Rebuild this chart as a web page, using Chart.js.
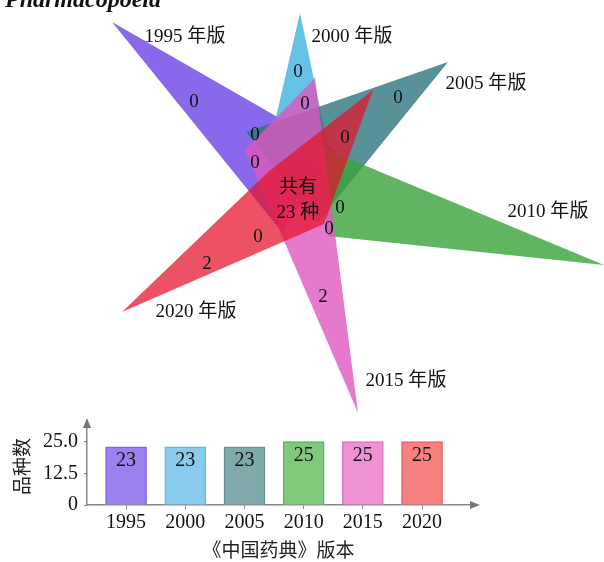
<!DOCTYPE html>
<html lang="zh">
<head>
<meta charset="utf-8">
<title>《中国药典》各版本品种数</title>
<script src="https://cdn.jsdelivr.net/npm/chart.js@4.4.1/dist/chart.umd.min.js"></script>
<style>
  html, body { margin: 0; padding: 0; background: #fff; overflow: hidden; }
  #wrap { position: relative; width: 604px; height: 562px; }
  #flower { position: absolute; left: 0; top: 0; }
  #bars { position: absolute; left: 0; top: 410px; }
</style>
</head>
<body>
<div id="wrap">
  <canvas id="flower" width="604" height="420"></canvas>
  <canvas id="bars" width="604" height="152"></canvas>
</div>
<script>
// editions and their variety counts
const editions = ['1995', '2000', '2005', '2010', '2015', '2020'];
const varietyCounts = [23, 23, 23, 25, 25, 25];
const uniqueCounts = [0, 0, 0, 0, 2, 2];   // only in that edition
const overlapCounts = [0, 0, 0, 0, 0, 0];  // partial overlaps near the core
const sharedCount = 23;                    // common to all editions
const countTicks = [0, 12.5, 25];

const SERIF = '"Liberation Serif", "Noto Sans CJK SC", serif';

// petal layout, in flower units (origin at the core, y up)
const petals = [
  { fill: 'rgba(108, 66, 230, 0.8)', outline: [[-186, 168], [37, 40], [-16, -42]], name: [-113, 153], only: [-104, 88] },
  { fill: 'rgba(62, 178, 224, 0.8)', outline: [[2, 177], [-30, 38], [34, 25]], name: [54, 153], only: [0, 118] },
  { fill: 'rgba(48, 118, 126, 0.8)', outline: [[150, 128], [-52, 58], [20, -32]], name: [188, 106], only: [100, 92] },
  { fill: 'rgba(58, 162, 58, 0.8)', outline: [[306, -75], [20, 44], [30, -46]], name: [250, -22], only: [42, -18] },
  { fill: 'rgba(222, 88, 190, 0.8)', outline: [[60, -223], [-53, 40], [17, 112]], name: [108, -191], only: [25, -107] },
  { fill: 'rgba(230, 22, 44, 0.74)', outline: [[-176, -122], [-30, 18], [75, 100], [26, -34]], name: [-102, -122], only: [-91, -74] }
];
const overlapSpots = [[7, 86], [47, 52], [31, -39], [-40, -47], [-43, 27], [-43, 55]];

const barFill = ['#9c80f0', '#88cbec', '#7fa9aa', '#80c97c', '#ee92d3', '#f78080'];
const barEdge = ['#8062e6', '#62b8e0', '#5f9092', '#5db55e', '#e072c6', '#e86262'];

const flowerText = {
  id: 'flowerText',
  afterDatasetsDraw(chart) {
    const { ctx, scales: { x, y } } = chart;
    const put = (txt, p) => ctx.fillText(txt, x.getPixelForValue(p[0]), y.getPixelForValue(p[1]));
    ctx.save();
    ctx.fillStyle = '#111';
    ctx.font = '19px ' + SERIF;
    ctx.textAlign = 'center';
    ctx.textBaseline = 'middle';
    petals.forEach((p, i) => {
      put(editions[i] + ' 年版', p.name);
      put(String(uniqueCounts[i]), p.only);
    });
    overlapSpots.forEach((p, i) => put(String(overlapCounts[i]), p));
    put('共有', [0, 2]);
    put(sharedCount + ' 种', [0, -23]);
    // caption running off the top edge
    ctx.font = 'italic bold 24px ' + SERIF;
    ctx.textAlign = 'left';
    ctx.textBaseline = 'alphabetic';
    ctx.fillText('Pharmacopoeia', 5, 7);
    ctx.restore();
  }
};

new Chart(document.getElementById('flower'), {
  type: 'scatter',
  data: {
    datasets: petals.map((p, i) => ({
      data: [...p.outline, p.outline[0]].map(([x, y]) => ({ x, y })),
      showLine: true,
      fill: 'shape',
      backgroundColor: p.fill,
      borderColor: 'transparent',
      borderWidth: 0,
      pointRadius: 0,
      order: petals.length - i
    }))
  },
  options: {
    responsive: false,
    animation: false,
    layout: { padding: 0 },
    plugins: { legend: { display: false }, tooltip: { enabled: false } },
    scales: {
      x: { type: 'linear', min: -298, max: 306, display: false },
      y: { type: 'linear', min: -230, max: 190, display: false }
    }
  },
  plugins: [flowerText]
});

const barValues = {
  id: 'barValues',
  afterDatasetsDraw(chart) {
    const { ctx } = chart;
    ctx.save();
    ctx.fillStyle = '#111';
    ctx.font = '20px ' + SERIF;
    ctx.textAlign = 'center';
    ctx.textBaseline = 'middle';
    chart.getDatasetMeta(0).data.forEach((bar, i) => {
      ctx.fillText(String(varietyCounts[i]), bar.x, bar.y + 14);
    });
    ctx.restore();
  }
};

const axisArrows = {
  id: 'axisArrows',
  afterDraw(chart) {
    const { ctx, chartArea: { left, top, right, bottom } } = chart;
    ctx.save();
    ctx.fillStyle = '#777';
    ctx.beginPath();
    ctx.moveTo(left, top - 10);
    ctx.lineTo(left - 4, top);
    ctx.lineTo(left + 4, top);
    ctx.fill();
    ctx.beginPath();
    ctx.moveTo(right + 10, bottom);
    ctx.lineTo(right, bottom - 4);
    ctx.lineTo(right, bottom + 4);
    ctx.fill();
    ctx.restore();
  }
};

new Chart(document.getElementById('bars'), {
  type: 'bar',
  data: {
    datasets: [{
      data: varietyCounts.map((v, i) => ({ x: i, y: v })),
      backgroundColor: barFill,
      borderColor: barEdge,
      borderWidth: 1.5,
      borderSkipped: 'bottom',
      barThickness: 41
    }]
  },
  options: {
    responsive: false,
    animation: false,
    layout: { padding: { top: 18, right: 134, bottom: 0, left: 0 } },
    plugins: { legend: { display: false }, tooltip: { enabled: false } },
    scales: {
      x: {
        type: 'linear',
        min: -0.66,
        max: 5.81,
        offset: false,
        afterBuildTicks: s => { s.ticks = editions.map((_, i) => ({ value: i })); },
        ticks: {
          callback: v => editions[v],
          color: '#111',
          padding: 2,
          maxRotation: 0,
          autoSkip: false,
          font: { family: SERIF, size: 20 }
        },
        grid: { display: true, offset: false, drawOnChartArea: false, tickLength: 4, color: '#888' },
        border: { color: '#888', width: 1.5 },
        title: {
          display: true,
          text: '《中国药典》版本',
          color: '#222',
          padding: { top: 6, bottom: 0 },
          font: { family: SERIF, size: 19, lineHeight: 1 }
        }
      },
      y: {
        min: 0,
        max: 30.4,
        afterBuildTicks: s => { s.ticks = countTicks.map(v => ({ value: v })); },
        afterFit: s => { s.width = 87; },
        ticks: {
          callback: v => (v === 0 ? '0' : v.toFixed(1)),
          color: '#111',
          padding: 6,
          font: { family: SERIF, size: 20 }
        },
        grid: { drawOnChartArea: false, tickLength: 3, color: '#888' },
        border: { color: '#888', width: 1.5 },
        title: {
          display: true,
          text: '品种数',
          color: '#222',
          padding: { top: 15, bottom: 0 },
          font: { family: SERIF, size: 19, lineHeight: 1 }
        }
      }
    }
  },
  plugins: [barValues, axisArrows]
});
</script>
</body>
</html>
